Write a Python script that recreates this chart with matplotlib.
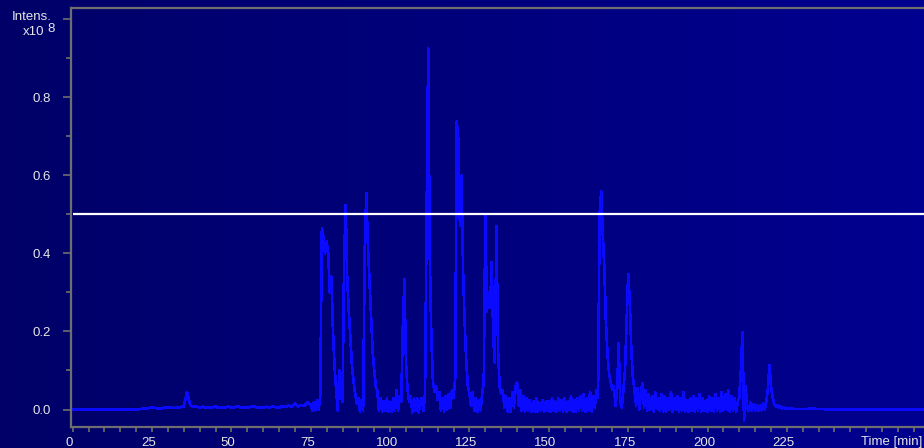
import numpy as np
import matplotlib
matplotlib.use("Agg")
import matplotlib.pyplot as plt
import matplotlib.transforms as mtransforms
from matplotlib.ticker import MultipleLocator

plt.rcParams['font.family'] = ['Liberation Sans', 'DejaVu Sans']

# base peak chromatogram, intensity in units of 1e8
early_time = np.arange(20.0, 75.0, 1.0)
early_int = [0.0, 0.001, 0.002, 0.002, 0.004, 0.006, 0.004, 0.003, 0.003, 0.005,
             0.004, 0.005, 0.004, 0.005, 0.006, 0.008, 0.045, 0.012, 0.006, 0.008,
             0.005, 0.007, 0.004, 0.006, 0.005, 0.008, 0.004, 0.006, 0.005, 0.007,
             0.004, 0.006, 0.008, 0.005, 0.006, 0.004, 0.007, 0.009, 0.005, 0.006,
             0.004, 0.007, 0.005, 0.008, 0.006, 0.005, 0.009, 0.006, 0.010, 0.007,
             0.016, 0.008, 0.012, 0.010, 0.018]

main_time = np.arange(75.0, 228.0, 0.5)
main_int = [
    0.012, -0.003, 0.018, -0.002, 0.025, 0.000, 0.035, 0.465, 0.440, 0.400,  # 75
    0.430, 0.400, 0.300, 0.340, 0.200, 0.110, 0.050, -0.002, 0.100, 0.035,   # 80
    0.020, 0.380, 0.524, 0.330, 0.250, 0.180, 0.110, 0.070, 0.040, 0.015,    # 85
    0.030, -0.005, 0.025, -0.002, 0.410, 0.555, 0.420, 0.330, 0.240, 0.150,  # 90
    0.100, 0.060, 0.045, -0.004, 0.030, -0.006, 0.022, -0.004, 0.028, -0.005,  # 95
    0.018, -0.005, 0.030, -0.003, 0.050, -0.004, 0.035, 0.020, 0.210, 0.334,   # 100
    0.120, 0.050, 0.020, 0.035, -0.008, 0.028, -0.004, 0.030, -0.008, 0.020,   # 105
    0.030, -0.004, 0.040, 0.500, 0.925, 0.390, 0.180, 0.070, 0.045, 0.060,     # 110
    0.025, 0.045, -0.003, 0.030, -0.005, 0.035, 0.000, 0.040, 0.005, 0.050,    # 115
    0.030, 0.080, 0.737, 0.690, 0.470, 0.599, 0.350, 0.220, 0.120, 0.060,     # 120
    0.040, 0.010, 0.045, -0.004, 0.030, -0.006, 0.025, -0.002, 0.040, 0.070,   # 125
    0.498, 0.250, 0.300, 0.260, 0.378, 0.180, 0.120, 0.470, 0.150, 0.060,     # 130
    0.040, 0.050, 0.005, 0.035, -0.005, 0.030, -0.006, 0.045, 0.005, 0.060,    # 135
    0.070, 0.010, 0.050, -0.004, 0.035, -0.006, 0.030, -0.003, 0.025, -0.006,  # 140
    0.020, -0.005, 0.030, -0.006, 0.018, -0.004, 0.025, -0.006, 0.020, -0.004,  # 145
    0.022, -0.006, 0.030, -0.004, 0.020, -0.006, 0.028, -0.003, 0.024, -0.005,  # 150
    0.030, -0.006, 0.020, -0.002, 0.035, -0.005, 0.025, -0.006, 0.030, -0.003,  # 155
    0.035, -0.004, 0.040, -0.006, 0.030, -0.002, 0.045, -0.005, 0.035, 0.005,   # 160
    0.050, 0.030, 0.500, 0.558, 0.450, 0.360, 0.220, 0.140, 0.090, 0.070,      # 165
    0.050, 0.060, 0.010, 0.045, 0.170, 0.020, 0.005, 0.050, 0.100, 0.220,      # 170
    0.347, 0.280, 0.150, 0.080, 0.050, 0.010, 0.055, 0.000, 0.045, 0.067,      # 175
    0.005, 0.050, -0.003, 0.040, 0.000, 0.035, -0.005, 0.045, 0.002, 0.030,    # 180
    -0.004, 0.040, -0.006, 0.035, -0.005, 0.030, 0.000, 0.045, -0.006, 0.030,  # 185
    0.000, 0.035, -0.006, 0.030, -0.003, 0.045, -0.005, 0.025, -0.006, 0.030,  # 190
    -0.004, 0.035, -0.006, 0.028, -0.002, 0.040, -0.006, 0.030, -0.003, 0.025,  # 195
    -0.005, 0.035, -0.002, 0.030, -0.006, 0.040, -0.003, 0.030, -0.005, 0.045,  # 200
    -0.002, 0.040, 0.000, 0.050, -0.005, 0.035, -0.003, 0.030, -0.006, 0.020,   # 205
    0.030, 0.100, 0.199, -0.030, 0.060, 0.005, -0.004, 0.018, -0.003, 0.014,    # 210
    -0.002, 0.012, -0.003, 0.010, -0.002, 0.015, 0.000, 0.020, 0.050, 0.114,    # 215
    0.060, 0.030, 0.015, 0.008, 0.012, 0.004, 0.008, 0.003, 0.005, 0.002,      # 220
    0.004, 0.002, 0.003, 0.001, 0.002, 0.001,                                  # 225
]

late_time = [229.0, 233.0, 240.0, 255.0, 268.5]
late_int = [0.001, 0.002, 0.0, 0.0, 0.0]

threshold = 0.5

time = np.concatenate([[-0.6, 0.0], early_time, main_time, late_time])
inten = np.concatenate([[0.0, 0.0], early_int, main_int, late_int])

fig = plt.figure(figsize=(9.24, 4.48), dpi=100)

# navy gradient behind everything
bg = fig.add_axes([0, 0, 1, 1])
grad = np.linspace(0, 1, 256)[None, :]
left_c = np.array([0, 0, 0x68]) / 255
right_c = np.array([0, 0, 0x90]) / 255
img = left_c[None, None, :] * (1 - grad[..., None]) + right_c[None, None, :] * grad[..., None]
bg.imshow(img, aspect='auto', extent=[0, 1, 0, 1])
bg.axis('off')

W, H = 924, 448
ax = fig.add_axes([70.7 / W, 1 - 426.7 / H, 1 - 70.7 / W, (426.7 - 8) / H])
ax.patch.set_alpha(0)

ax.plot(time, inten, color='#0a0aff', lw=1.2, antialiased=False)
ax.hlines(threshold, 0, 268.5, color='white', lw=1.6)

ax.set_xlim(-0.63, 268.2)
ax.set_ylim(-0.044, 1.028)

spine_c = '#6e6e6e'
for side in ['left', 'top', 'bottom']:
    ax.spines[side].set_color(spine_c)
    ax.spines[side].set_linewidth(1.6)
ax.spines['right'].set_visible(False)

ax.xaxis.set_major_locator(MultipleLocator(25))
ax.xaxis.set_minor_locator(MultipleLocator(5))
ax.yaxis.set_major_locator(MultipleLocator(0.2))
ax.yaxis.set_minor_locator(MultipleLocator(0.1))

xt = np.arange(0, 275, 25)
ax.set_xticks(xt)
ax.set_xticklabels([str(v) if v < 250 else '' for v in xt])
yt = [0.0, 0.2, 0.4, 0.6, 0.8, 1.0]
ax.set_yticks(yt)
ax.set_yticklabels(['%.1f' % v if v < 1 else '' for v in yt])

lab_c = '#e6e6e6'
fs = 9.5
ax.tick_params(axis='x', which='both', direction='out', length=3.5, width=1.2,
               color=spine_c, labelcolor=lab_c, labelsize=fs, pad=4, top=False)
ax.tick_params(axis='y', which='major', direction='out', length=6, width=1.2,
               color=spine_c, labelcolor=lab_c, labelsize=fs, pad=8.5)
ax.tick_params(axis='y', which='minor', direction='out', length=3.5, width=1.2,
               color=spine_c)

# x labels sit a little left of their ticks
shift = mtransforms.ScaledTranslation(-0.035, 0, fig.dpi_scale_trans)
for lbl in ax.get_xticklabels():
    lbl.set_transform(lbl.get_transform() + shift)

fig.text(51.5 / W, 1 - 20.5 / H, 'Intens.', color=lab_c, fontsize=fs,
         ha='right', va='baseline')
fig.text(44.5 / W, 1 - 35 / H, 'x10', color=lab_c, fontsize=fs,
         ha='right', va='baseline')
fig.text(47 / W, 1 - 32 / H, '8', color=lab_c, fontsize=fs,
         ha='left', va='baseline')
fig.text(922.5 / W, 1 - 444.5 / H, 'Time [min]', color=lab_c, fontsize=fs,
         ha='right', va='baseline')

fig.savefig('out.png', dpi=100)
